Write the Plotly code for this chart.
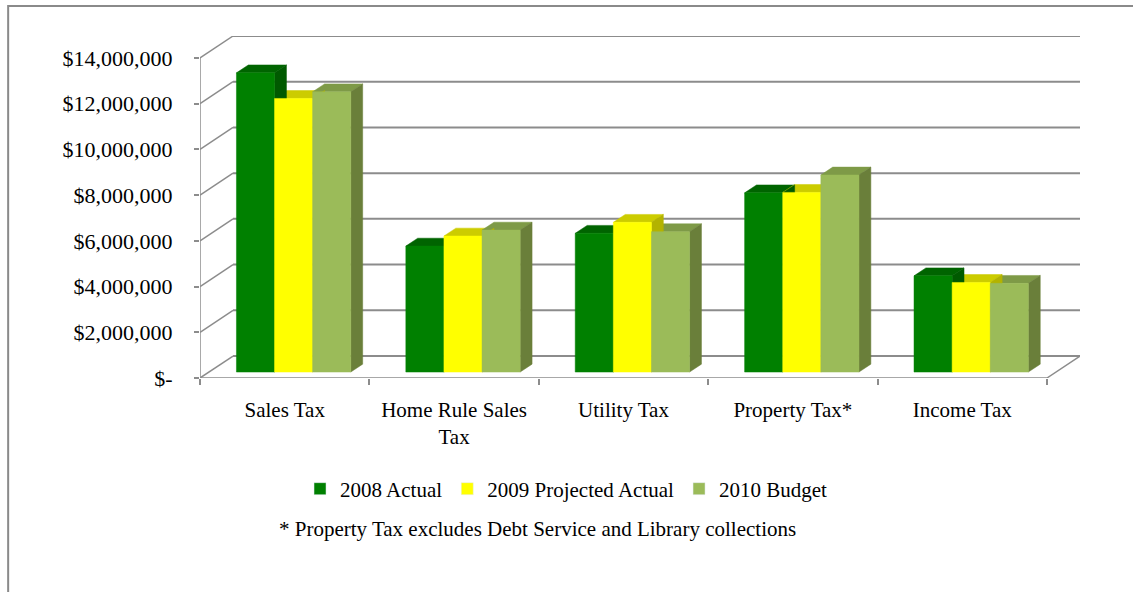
import plotly.graph_objects as go

# ---- data -------------------------------------------------------------
categories = ["Sales Tax", "Home Rule Sales<br>Tax", "Utility Tax", "Property Tax*", "Income Tax"]
series_names = ["2008 Actual", "2009 Projected Actual", "2010 Budget"]
actual_2008 = [13_090_000, 5_510_000, 6_070_000, 7_840_000, 4_210_000]
projected_2009 = [11_970_000, 5_950_000, 6_550_000, 7_860_000, 3_920_000]
budget_2010 = [12_260_000, 6_210_000, 6_140_000, 8_620_000, 3_880_000]
y_tick_values = [0, 2_000_000, 4_000_000, 6_000_000, 8_000_000, 10_000_000, 12_000_000, 14_000_000]
y_tick_labels = ["$-", "$2,000,000", "$4,000,000", "$6,000,000", "$8,000,000",
                 "$10,000,000", "$12,000,000", "$14,000,000"]
footnote = "* Property Tax excludes Debt Service and Library collections"

# ---- styling ----------------------------------------------------------
FONT = "Liberation Serif, Times New Roman, serif"
FRONT_COLORS = ["#008000", "#FFFF00", "#9BBB59"]
TOP_COLORS = ["#006400", "#CCCC00", "#7E9A47"]
SIDE_COLORS = ["#005A00", "#B3B300", "#6A7F3A"]
GRID = "#8C8C8C"

# oblique 3-D look: depth of the chart box (category units, value units)
DX = 0.195
DY = 962_000
BAR_W = 0.225          # width of one bar in category units
BAR_Z0 = 0.27          # depth fraction of the bars' front faces
BAR_DEPTH = 0.36       # depth fraction occupied by the bars
y_max = y_tick_values[-1]
x_left, x_right = -0.5, len(categories) - 0.5

series = [actual_2008, projected_2009, budget_2010]

fig = go.Figure()


def add_lines(xs, ys, width):
    fig.add_trace(go.Scatter(x=xs, y=ys, mode="lines", line=dict(color=GRID, width=width),
                             hoverinfo="skip", showlegend=False, cliponaxis=False))


# back wall gridlines
gx, gy = [], []
for v in y_tick_values:
    gx += [x_left + DX, x_right + DX, None]
    gy += [v + DY, v + DY, None]
add_lines(gx, gy, 2)

# side wall diagonals
sx, sy = [], []
for v in y_tick_values:
    sx += [x_left, x_left + DX, None]
    sy += [v, v + DY, None]
add_lines(sx, sy, 1.5)

# floor edges and front value axis
add_lines([x_left, x_right, x_right + DX, None, x_left, x_left],
          [0, 0, DY, None, 0, y_max], 1.5)

# bar geometry from the values
base = BAR_Z0 * DY
ddx = BAR_DEPTH * DX
ddy = BAR_DEPTH * DY
shift = BAR_Z0 * DX


def bar_edges(k, i):
    xl = i + shift - 1.5 * BAR_W + k * BAR_W
    return xl, xl + BAR_W


faces = {"top": [], "side": [], "front": []}
for k, values in enumerate(series):
    tx, ty, sx_, sy_, fx, fy = [], [], [], [], [], []
    for i, v in enumerate(values):
        xl, xr = bar_edges(k, i)
        top = base + v
        tx += [xl, xr, xr + ddx, xl + ddx, xl, None]
        ty += [top, top, top + ddy, top + ddy, top, None]
        sx_ += [xr, xr, xr + ddx, xr + ddx, xr, None]
        sy_ += [base, top, top + ddy, base + ddy, base, None]
        fx += [xl, xr, xr, xl, xl, None]
        fy += [base, base, top, top, base, None]
    faces["top"].append((tx, ty, TOP_COLORS[k]))
    faces["side"].append((sx_, sy_, SIDE_COLORS[k]))
    faces["front"].append((fx, fy, FRONT_COLORS[k]))

# tops first, then sides, then fronts so nearer faces cover farther ones
for kind in ["top", "side", "front"]:
    for xs, ys, col in faces[kind]:
        fig.add_trace(go.Scatter(x=xs, y=ys, mode="lines", fill="toself", fillcolor=col,
                                 line=dict(color=col, width=0.5), hoverinfo="skip",
                                 showlegend=False))

# legend entries
for name, col in zip(series_names, FRONT_COLORS):
    fig.add_trace(go.Bar(x=[None], y=[None], name=name, marker_color=col, showlegend=True))

# outer chart frame
fig.add_shape(type="rect", xref="paper", yref="paper", x0=-0.218, x1=1.2, y0=-0.7, y1=1.0877,
              line=dict(color="#8A8A8A", width=2), fillcolor="rgba(0,0,0,0)", layer="below")

fig.add_annotation(text=footnote, xref="paper", yref="paper", x=0.3835, y=-0.4415,
                   showarrow=False, xanchor="center", yanchor="middle",
                   font=dict(family=FONT, size=21, color="#000000"))

fig.update_layout(
    width=1133, height=592, autosize=False,
    margin=dict(l=200, r=53, t=36, b=214),
    paper_bgcolor="white", plot_bgcolor="white",
    font=dict(family=FONT, size=21, color="#000000"),
    showlegend=True,
    legend=dict(orientation="h", x=0.4165, xanchor="center", y=-0.3246, yanchor="middle",
                font=dict(family=FONT, size=21), itemclick=False, itemdoubleclick=False,
                traceorder="normal", bgcolor="rgba(0,0,0,0)"),
    xaxis=dict(range=[x_left, x_right + DX], tickmode="array",
               tickvals=list(range(len(categories))), ticktext=categories,
               ticks="", showgrid=False, zeroline=False, showline=False,
               tickfont=dict(family=FONT, size=21), ticklabelstandoff=17,
               minor=dict(tickmode="array", tickvals=[i - 0.5 for i in range(len(categories) + 1)],
                          ticks="outside", ticklen=6, tickcolor=GRID, tickwidth=1.5, showgrid=False),
               fixedrange=True),
    yaxis=dict(range=[0, y_max + DY], tickmode="array", tickvals=y_tick_values,
               ticktext=y_tick_labels, ticks="outside", ticklen=5, tickcolor=GRID, tickwidth=1.5,
               showgrid=False, zeroline=False, showline=False,
               tickfont=dict(family=FONT, size=22), ticklabelstandoff=17, fixedrange=True),
    bargap=0,
)

fig.write_html("out.html")
